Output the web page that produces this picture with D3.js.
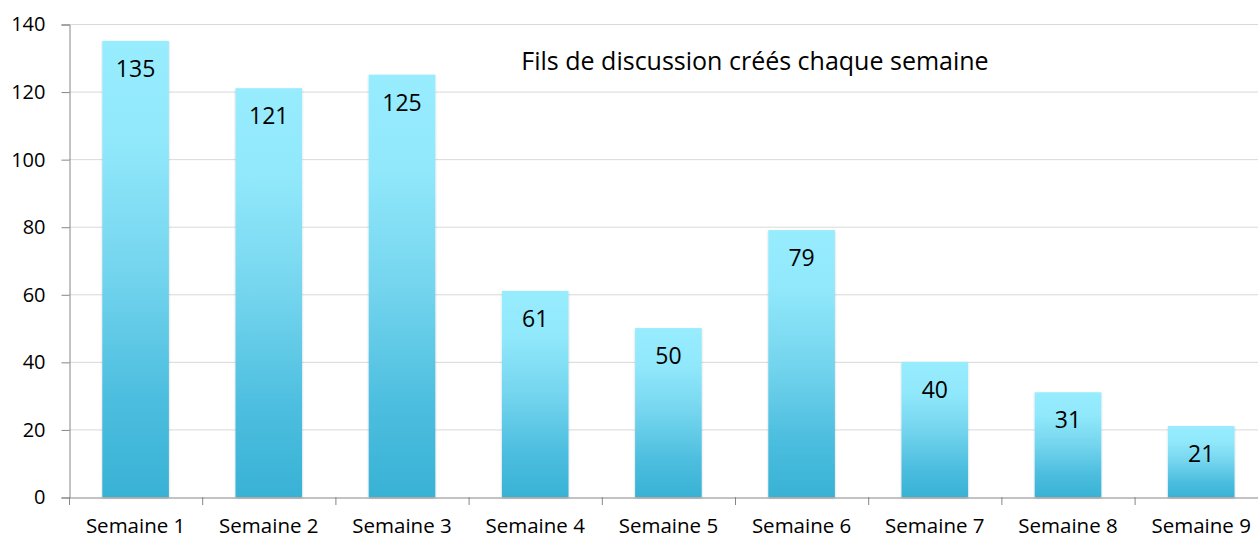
<!DOCTYPE html>
<html><head><meta charset="utf-8">
<script src="https://cdn.jsdelivr.net/npm/d3@7"></script>
<style>html,body{margin:0;padding:0;background:#fff;overflow:hidden}</style>
</head><body>
<svg id="c" width="1258" height="538"></svg>
<script>
const categories = ["Semaine 1","Semaine 2","Semaine 3","Semaine 4","Semaine 5","Semaine 6","Semaine 7","Semaine 8","Semaine 9"];
const values = [135,121,125,61,50,79,40,31,21];
const yTicks = [0,20,40,60,80,100,120,140];
const title = "Fils de discussion créés chaque semaine";

(function(){
const svg = d3.select("#c");
const FONT = "'Open Sans', sans-serif";
const mLeft = 69, mTop = 24, mBottom = 497, step = 133.2;
const x = d3.scaleBand().domain(categories).range([mLeft, mLeft + step*categories.length]).paddingInner(0.5).paddingOuter(0.25);
const y = d3.scaleLinear().domain([0,140]).range([mBottom, mTop]);

const defs = svg.append("defs");
const g = defs.append("linearGradient").attr("id","bg").attr("x1",0).attr("y1",0).attr("x2",0).attr("y2",1);
[[0,"#97EDFE"],[0.22,"#91E8FB"],[0.5,"#74D5EE"],[0.78,"#4DBEDF"],[1,"#38B2D5"]].forEach(s=>
  g.append("stop").attr("offset",s[0]).attr("stop-color",s[1]));
const f = defs.append("filter").attr("id","sh").attr("x","-10%").attr("y","-5%").attr("width","120%").attr("height","110%");
f.append("feDropShadow").attr("dx",0).attr("dy",1).attr("stdDeviation",1.3).attr("flood-color","#000").attr("flood-opacity",0.2);

svg.append("g").selectAll("line").data(yTicks.filter(d=>d>0)).join("line")
  .attr("x1",mLeft).attr("x2",1258).attr("y1",d=>y(d)+0.5).attr("y2",d=>y(d)+0.5)
  .attr("stroke","#D9D9D9").attr("stroke-width",1);

const ya = svg.append("g").attr("transform",`translate(${mLeft+0.5},0.5)`)
  .call(d3.axisLeft(y).tickValues(yTicks).tickSize(8).tickPadding(8));
ya.select(".domain").attr("stroke","#868686");
ya.selectAll(".tick line").attr("stroke","#868686");
ya.selectAll(".tick text").attr("font-family",FONT).attr("font-size",20).attr("fill","#000").attr("dx",-8);

const xa = svg.append("g").attr("transform",`translate(0,${mBottom+0.5})`)
  .call(d3.axisBottom(x).tickSize(0).tickPadding(21));
xa.select(".domain").attr("stroke","#868686");
xa.selectAll(".tick text").attr("font-family",FONT).attr("font-size",20.5).attr("fill","#000");
svg.append("g").selectAll("line").data(d3.range(categories.length+1)).join("line")
  .attr("x1",i=>mLeft + i*x.step()+0.5).attr("x2",i=>mLeft + i*x.step()+0.5)
  .attr("y1",mBottom).attr("y2",mBottom+8).attr("stroke","#868686");

svg.append("g").selectAll("rect").data(values).join("rect")
  .attr("x",(d,i)=>x(categories[i])).attr("width",x.bandwidth())
  .attr("y",d=>y(d)).attr("height",d=>mBottom-y(d))
  .attr("fill","url(#bg)").attr("filter","url(#sh)");

svg.append("g").selectAll("text").data(values).join("text")
  .attr("x",(d,i)=>x(categories[i])+x.bandwidth()/2).attr("y",d=>y(d)+36)
  .attr("text-anchor","middle").attr("font-family",FONT).attr("font-size",23).attr("fill","#000")
  .text(d=>d);

svg.append("text").attr("x",755).attr("y",70).attr("text-anchor","middle")
  .attr("font-family",FONT).attr("font-size",25).attr("fill","#000").text(title);
})();
</script>
</body></html>
